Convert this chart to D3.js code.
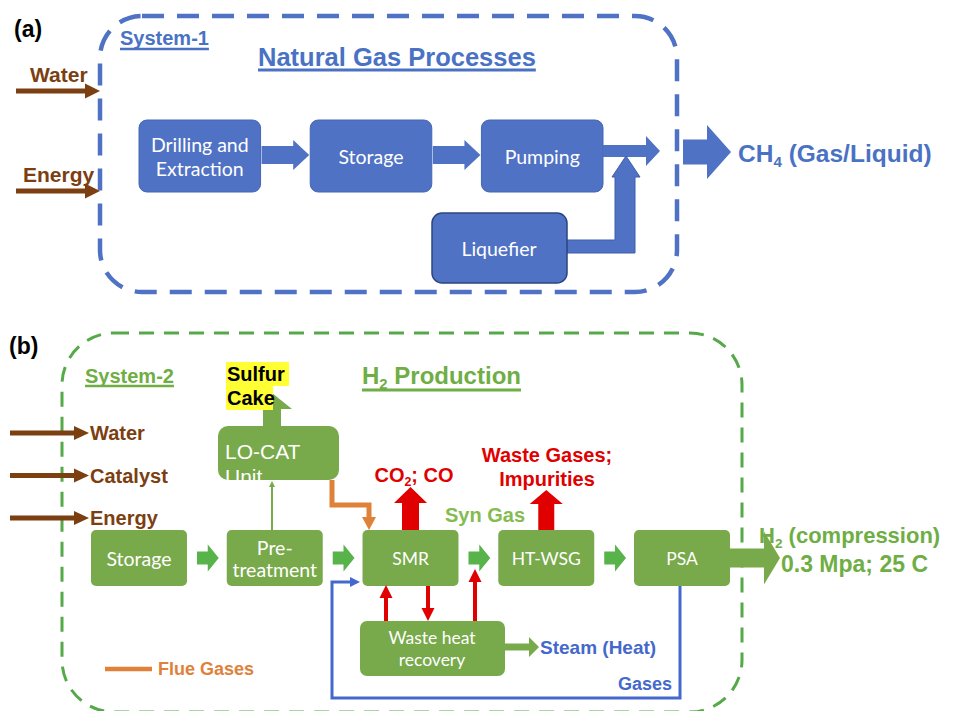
<!DOCTYPE html>
<html>
<head>
<meta charset="utf-8">
<script src="https://cdn.jsdelivr.net/npm/d3@7"></script>
<style>
  body { margin: 0; background: #fff; }
  svg { font-family: "Liberation Sans", Arial, sans-serif; }
</style>
</head>
<body>
<div id="chart"></div>
<script>
// labels of the two flow diagrams
const panelTags = ["(a)", "(b)"];
const systemNames = ["System-1", "System-2"];
const gasSteps = ["Drilling and|Extraction", "Storage", "Pumping"];
const gasSide = "Liquefier";
const gasInputs = ["Water", "Energy"];
const h2Steps = ["Storage", "Pre-|treatment", "SMR", "HT-WSG", "PSA"];
const h2Inputs = ["Water", "Catalyst", "Energy"];
const h2Emissions = ["CO2; CO", "Waste Gases;|Impurities"];

const W = 959, H = 711;
const BLUE = "#4f72c4", BLUE_TXT = "#4a72c4", GREEN_BOX = "#78a94b", GREEN_ARR = "#57b34a",
      GREEN_TXT = "#6fae45", RED = "#e00000", BROWN = "#7b3f12", ORANGE = "#e0813a", LINE_BLUE = "#4468cc";
const BOX_FONT = "Lato, 'Open Sans', sans-serif";

const svg = d3.select("#chart").append("svg")
    .attr("width", W)
    .attr("height", H);

function blockArrow(g, x0, y0, x1, y1, body, head, headLen, fill) {
    const L = Math.hypot(x1 - x0, y1 - y0), ux = (x1 - x0) / L, uy = (y1 - y0) / L;
    const nx = -uy, ny = ux;
    const bx = x1 - ux * headLen, by = y1 - uy * headLen;
    const pts = [
        [x0 + nx * body / 2, y0 + ny * body / 2], [bx + nx * body / 2, by + ny * body / 2],
        [bx + nx * head / 2, by + ny * head / 2], [x1, y1],
        [bx - nx * head / 2, by - ny * head / 2], [bx - nx * body / 2, by - ny * body / 2],
        [x0 - nx * body / 2, y0 - ny * body / 2]
    ];
    return g.append("path").attr("d", d3.line()(pts) + "Z").attr("fill", fill);
}

function lineArrow(g, pts, width, headW, headLen, color) {
    const n = pts.length;
    const [xa, ya] = pts[n - 2], [xb, yb] = pts[n - 1];
    const L = Math.hypot(xb - xa, yb - ya), ux = (xb - xa) / L, uy = (yb - ya) / L;
    const bx = xb - ux * headLen, by = yb - uy * headLen;
    const linePts = pts.slice(0, n - 1).concat([[bx + ux, by + uy]]);
    g.append("path").attr("d", d3.line()(linePts)).attr("fill", "none")
        .attr("stroke", color).attr("stroke-width", width);
    g.append("path")
        .attr("d", d3.line()([[xb, yb], [bx - uy * headW / 2, by + ux * headW / 2], [bx + uy * headW / 2, by - ux * headW / 2]]) + "Z")
        .attr("fill", color);
}

function boxText(g, x, y, label, lineH, size) {
    const lines = label.split("|");
    const t = g.append("text").attr("x", x).attr("y", y - (lines.length - 1) * lineH / 2)
        .attr("text-anchor", "middle").attr("dominant-baseline", "central")
        .attr("font-size", size).attr("fill", "#fff").style("font-family", BOX_FONT);
    lines.forEach((l, i) => t.append("tspan").attr("x", x).attr("dy", i === 0 ? 0 : lineH).text(l));
    return t;
}

// text with a subscript digit after the first run
function subText(g, x, y, parts, size, color, anchor) {
    const t = g.append("text").attr("x", x).attr("y", y).attr("font-size", size)
        .attr("font-weight", "bold").attr("fill", color).attr("text-anchor", anchor || "start");
    t.append("tspan").text(parts[0]);
    t.append("tspan").attr("font-size", size * 0.62).attr("dy", size * 0.22).text(parts[1]);
    t.append("tspan").attr("dy", -size * 0.22).text(parts[2]);
    return t;
}

function underline(g, textSel, y, color, w) {
    const bb = textSel.node().getBBox();
    g.append("line").attr("x1", bb.x).attr("x2", bb.x + bb.width).attr("y1", y).attr("y2", y)
        .attr("stroke", color).attr("stroke-width", w);
}

// ---------------- panel (a) ----------------
const ga = svg.append("g");
ga.append("text").attr("x", 14).attr("y", 37).attr("font-size", 23).attr("font-weight", "bold")
    .text(panelTags[0]);

ga.append("rect").attr("x", 100).attr("y", 16).attr("width", 577).attr("height", 276)
    .attr("rx", 42).attr("fill", "none").attr("stroke", BLUE).attr("stroke-width", 4.5)
    .attr("stroke-dasharray", "22 13");

const s1 = ga.append("text").attr("x", 120).attr("y", 45).attr("font-size", 20)
    .attr("font-weight", "bold").attr("fill", BLUE_TXT).text(systemNames[0]);
underline(ga, s1, 49, BLUE_TXT, 2.5);
const t1 = ga.append("text").attr("x", 258).attr("y", 66).attr("font-size", 25.5)
    .attr("font-weight", "bold").attr("fill", BLUE_TXT).text("Natural Gas Processes");
underline(ga, t1, 70, BLUE_TXT, 3);

const yIn = d3.scalePoint().domain(gasInputs).range([91, 191]);
gasInputs.forEach(d => {
    lineArrow(ga, [[16, yIn(d)], [100, yIn(d)]], 5, 15, 15, BROWN);
    ga.append("text").attr("x", d === "Water" ? 30 : 23).attr("y", yIn(d) - 9)
        .attr("font-size", 21).attr("font-weight", "bold").attr("fill", BROWN).text(d);
});

const xA = d3.scaleBand().domain(gasSteps).range([139, 603]).paddingInner(0.29);
const rowA = { y: 120, h: 72 };
ga.selectAll("rect.step").data(gasSteps).enter().append("rect")
    .attr("class", "step")
    .attr("x", d => xA(d)).attr("y", rowA.y)
    .attr("width", xA.bandwidth()).attr("height", rowA.h).attr("rx", 8)
    .attr("fill", BLUE).attr("stroke", "#4466b4").attr("stroke-width", 1);
gasSteps.forEach(d => {
    boxText(ga, xA(d) + xA.bandwidth() / 2, rowA.y + rowA.h / 2, d, 24, 19.5);
});
for (let i = 0; i < gasSteps.length - 1; i++) {
    blockArrow(ga, xA(gasSteps[i]) + xA.bandwidth() + 1, 155, xA(gasSteps[i + 1]) - 1, 155, 18, 30, 16, BLUE);
}
// pumping out
blockArrow(ga, 603, 151, 660, 151, 12, 30, 14, BLUE);
// liquefier box and its bent arrow
ga.append("path")
    .attr("d", d3.line()([[567, 240], [615, 240], [615, 177], [612, 177], [626, 156], [640, 177], [635, 177], [635, 253], [567, 253]]) + "Z")
    .attr("fill", BLUE).attr("stroke", "#3f5fa8").attr("stroke-width", 1);
ga.append("rect").attr("x", 432).attr("y", 213).attr("width", 135).attr("height", 70).attr("rx", 10)
    .attr("fill", BLUE).attr("stroke", "#2c4580").attr("stroke-width", 1.5);
boxText(ga, 499, 248, gasSide, 22, 19.5);

// product
blockArrow(ga, 683, 152, 731, 152, 25, 54, 24, BLUE);
subText(ga, 738, 162, ["CH", "4", " (Gas/Liquid)"], 24.5, BLUE_TXT);

// ---------------- panel (b) ----------------
const gb = svg.append("g");
gb.append("text").attr("x", 9).attr("y", 354).attr("font-size", 23).attr("font-weight", "bold")
    .text(panelTags[1]);

gb.append("rect").attr("x", 62).attr("y", 333).attr("width", 680).attr("height", 379)
    .attr("rx", 52).attr("fill", "none").attr("stroke", "#55a948").attr("stroke-width", 3)
    .attr("stroke-dasharray", "15 10");

const s2 = gb.append("text").attr("x", 85).attr("y", 383).attr("font-size", 20)
    .attr("font-weight", "bold").attr("fill", GREEN_TXT).text(systemNames[1]);
underline(gb, s2, 386, GREEN_TXT, 2.5);
const t2 = subText(gb, 362, 384, ["H", "2", " Production"], 24, GREEN_TXT);
underline(gb, t2, 390, GREEN_TXT, 3);

const yIn2 = d3.scalePoint().domain(h2Inputs).range([433, 518]);
h2Inputs.forEach(d => {
    lineArrow(gb, [[10, yIn2(d)], [89, yIn2(d)]], 5, 14, 15, BROWN);
    gb.append("text").attr("x", 90).attr("y", yIn2(d) + 7)
        .attr("font-size", 20).attr("font-weight", "bold").attr("fill", BROWN).text(d);
});

const xB = d3.scaleBand().domain(h2Steps).range([91, 730]).paddingInner(0.293);
const rowB = { y: 530, h: 56 };

// LO-CAT unit and sulfur cake
blockArrow(gb, 272, 427, 272, 393, 18, 40, 16, GREEN_BOX);
const hl = gb.append("g");
hl.append("rect").attr("x", 226).attr("y", 362).attr("width", 63).attr("height", 24).attr("fill", "#ffff33");
hl.append("rect").attr("x", 226).attr("y", 386).attr("width", 47).attr("height", 24).attr("fill", "#ffff33");
hl.append("text").attr("x", 227).attr("y", 381).attr("font-size", 20).attr("font-weight", "bold").text("Sulfur");
hl.append("text").attr("x", 227).attr("y", 405).attr("font-size", 20).attr("font-weight", "bold").text("Cake");

gb.append("clipPath").attr("id", "locat").append("rect")
    .attr("x", 218).attr("y", 426).attr("width", 121).attr("height", 54).attr("rx", 10);
gb.append("rect").attr("x", 218).attr("y", 426).attr("width", 121).attr("height", 54).attr("rx", 10)
    .attr("fill", GREEN_BOX);
const lc = gb.append("g").attr("clip-path", "url(#locat)");
lc.append("text").attr("x", 225).attr("y", 459).attr("font-size", 21).attr("fill", "#fff").text("LO-CAT");
lc.append("text").attr("x", 225).attr("y", 484).attr("font-size", 21).attr("fill", "#fff").text("Unit");
lineArrow(gb, [[272, 530], [272, 481]], 2, 6, 6, GREEN_BOX);

// flue gases into SMR
lineArrow(gb, [[332, 480], [332, 505], [369, 505], [369, 530]], 5, 14, 13, ORANGE);

// steps
gb.selectAll("rect.step").data(h2Steps).enter().append("rect")
    .attr("class", "step")
    .attr("x", d => xB(d)).attr("y", rowB.y)
    .attr("width", xB.bandwidth()).attr("height", rowB.h).attr("rx", 5)
    .attr("fill", GREEN_BOX);
h2Steps.forEach(d => {
    boxText(gb, xB(d) + xB.bandwidth() / 2, rowB.y + rowB.h / 2, d, 22, d.length > 6 ? 19.5 : 17.5);
});
for (let i = 0; i < h2Steps.length - 1; i++) {
    const x0 = xB(h2Steps[i]) + xB.bandwidth() + 10, x1 = xB(h2Steps[i + 1]) - 8;
    blockArrow(gb, x0, 558, x1, 558, 13, 27, 11, GREEN_ARR);
}

// waste heat recovery
gb.append("rect").attr("x", 360).attr("y", 621).attr("width", 145).attr("height", 55).attr("rx", 7)
    .attr("fill", GREEN_BOX);
boxText(gb, 432, 648, "Waste heat|recovery", 22, 17.5);
blockArrow(gb, 505, 647, 539, 647, 7, 20, 10, GREEN_BOX);
gb.append("text").attr("x", 540).attr("y", 654).attr("font-size", 19).attr("font-weight", "bold")
    .attr("fill", LINE_BLUE).text("Steam (Heat)");

// heat exchange arrows
lineArrow(gb, [[386, 621], [386, 585]], 4, 13, 13, RED);
lineArrow(gb, [[428, 586], [428, 621]], 4, 13, 13, RED);
lineArrow(gb, [[475, 621], [475, 569]], 4, 13, 13, RED);

// emissions
blockArrow(gb, xB("SMR") + 48, 530, xB("SMR") + 48, 487, 17, 33, 16, RED);
blockArrow(gb, xB("HT-WSG") + 48, 530, xB("HT-WSG") + 48, 490, 16, 33, 14, RED);
subText(gb, 414, 482, ["CO", "2", h2Emissions[0].slice(3)], 20, RED, "middle");
h2Emissions[1].split("|").forEach((l, i) => {
    gb.append("text").attr("x", 547).attr("y", 462 + i * 24).attr("text-anchor", "middle")
        .attr("font-size", 20).attr("font-weight", "bold").attr("fill", RED).text(l);
});
gb.append("text").attr("x", 445).attr("y", 522).attr("font-size", 20).attr("font-weight", "bold")
    .attr("fill", "#85bb50").text("Syn Gas");

// recycle gases
lineArrow(gb, [[680, 586], [680, 698], [332, 698], [332, 582], [360, 582]], 3, 10, 10, LINE_BLUE);
gb.append("text").attr("x", 618).attr("y", 690).attr("font-size", 18).attr("font-weight", "bold")
    .attr("fill", LINE_BLUE).text("Gases");

// legend
gb.append("line").attr("x1", 105).attr("x2", 152).attr("y1", 669).attr("y2", 669)
    .attr("stroke", ORANGE).attr("stroke-width", 4.5);
gb.append("text").attr("x", 158).attr("y", 675).attr("font-size", 18).attr("font-weight", "bold")
    .attr("fill", ORANGE).text("Flue Gases");

// product
blockArrow(gb, 730, 558, 780, 558, 19, 53, 16, GREEN_BOX);
subText(gb, 759, 543, ["H", "2", " (compression)"], 22, GREEN_TXT);
gb.append("text").attr("x", 781).attr("y", 572).attr("font-size", 23).attr("font-weight", "bold")
    .attr("fill", GREEN_TXT).text("0.3 Mpa; 25 C");
</script>
</body>
</html>
